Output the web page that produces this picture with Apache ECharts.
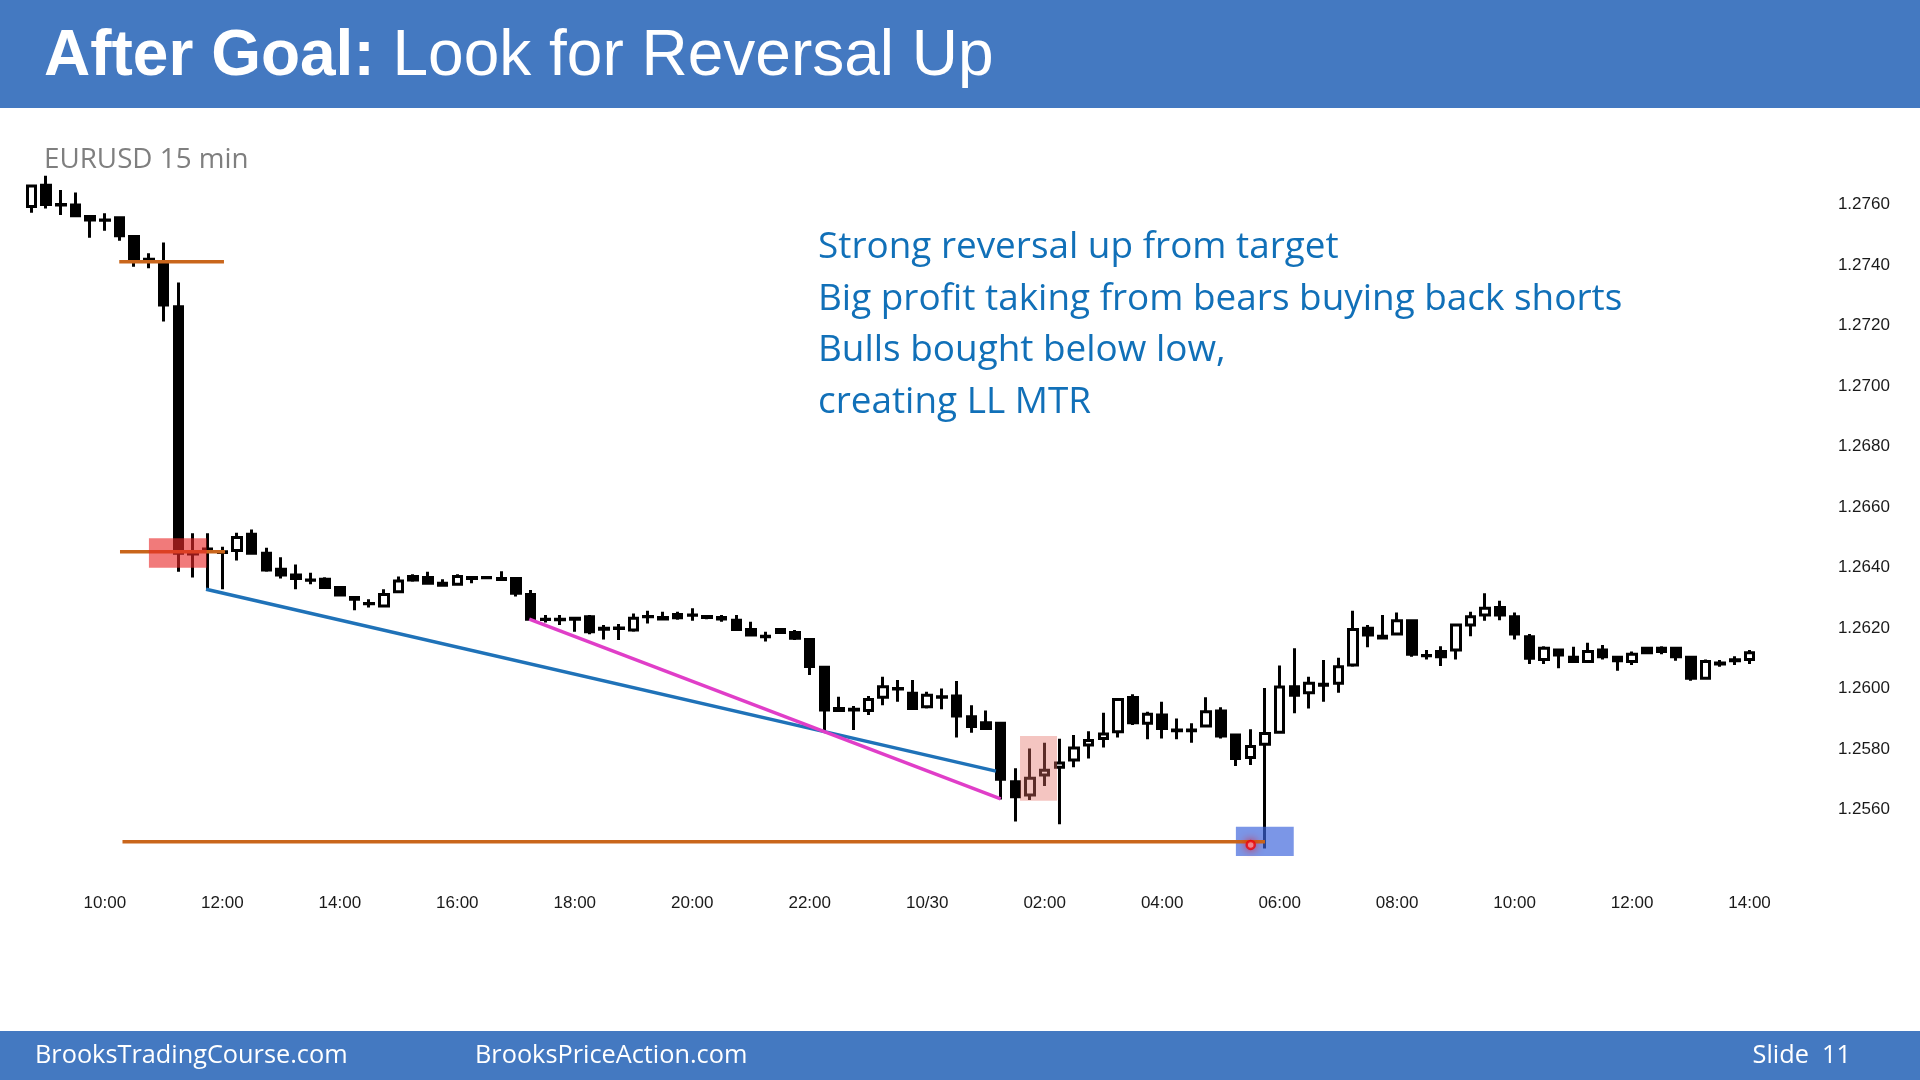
<!DOCTYPE html>
<html>
<head>
<meta charset="utf-8">
<title>After Goal: Look for Reversal Up</title>
<script src="https://cdn.jsdelivr.net/npm/echarts/dist/echarts.min.js"></script>
<style>
  html, body { margin: 0; padding: 0; background: #fff; }
  #main { width: 1920px; height: 1080px; }
</style>
</head>
<body>
<div id="main"></div>
<script>
// EURUSD 15 min bars, [open, close, low, high], first bar 08:45
const bars = [
  [1.27593, 1.27661, 1.27573, 1.27665],
  [1.27664, 1.27600, 1.27587, 1.27695],
  [1.27600, 1.27598, 1.27565, 1.27648],
  [1.27598, 1.27563, 1.27558, 1.27640],
  [1.27560, 1.27549, 1.27490, 1.27561],
  [1.27549, 1.27548, 1.27513, 1.27571],
  [1.27556, 1.27497, 1.27480, 1.27560],
  [1.27494, 1.27417, 1.27394, 1.27497],
  [1.27419, 1.27415, 1.27389, 1.27439],
  [1.27405, 1.27268, 1.27213, 1.27474],
  [1.27262, 1.26447, 1.26386, 1.27342],
  [1.26447, 1.26445, 1.26367, 1.26513],
  [1.26461, 1.26460, 1.26328, 1.26513],
  [1.26450, 1.26452, 1.26328, 1.26469],
  [1.26456, 1.26499, 1.26423, 1.26515],
  [1.26510, 1.26447, 1.26447, 1.26526],
  [1.26447, 1.26392, 1.26386, 1.26465],
  [1.26394, 1.26375, 1.26364, 1.26434],
  [1.26375, 1.26364, 1.26328, 1.26410],
  [1.26359, 1.26358, 1.26345, 1.26383],
  [1.26361, 1.26334, 1.26331, 1.26368],
  [1.26334, 1.26309, 1.26304, 1.26339],
  [1.26301, 1.26295, 1.26259, 1.26301],
  [1.26281, 1.26280, 1.26268, 1.26295],
  [1.26273, 1.26311, 1.26273, 1.26328],
  [1.26320, 1.26355, 1.26320, 1.26370],
  [1.26370, 1.26359, 1.26353, 1.26378],
  [1.26367, 1.26348, 1.26348, 1.26386],
  [1.26348, 1.26341, 1.26341, 1.26361],
  [1.26345, 1.26370, 1.26341, 1.26378],
  [1.26367, 1.26364, 1.26348, 1.26367],
  [1.26367, 1.26366, 1.26362, 1.26372],
  [1.26364, 1.26360, 1.26360, 1.26388],
  [1.26364, 1.26315, 1.26304, 1.26368],
  [1.26311, 1.26229, 1.26225, 1.26326],
  [1.26229, 1.26228, 1.26218, 1.26243],
  [1.26229, 1.26227, 1.26210, 1.26243],
  [1.26232, 1.26229, 1.26188, 1.26232],
  [1.26237, 1.26188, 1.26179, 1.26243],
  [1.26199, 1.26196, 1.26162, 1.26210],
  [1.26198, 1.26200, 1.26160, 1.26213],
  [1.26193, 1.26232, 1.26188, 1.26248],
  [1.26237, 1.26238, 1.26215, 1.26257],
  [1.26235, 1.26230, 1.26229, 1.26254],
  [1.26245, 1.26234, 1.26227, 1.26254],
  [1.26243, 1.26242, 1.26224, 1.26265],
  [1.26238, 1.26235, 1.26229, 1.26243],
  [1.26235, 1.26230, 1.26221, 1.26243],
  [1.26226, 1.26195, 1.26193, 1.26243],
  [1.26195, 1.26177, 1.26174, 1.26221],
  [1.26173, 1.26171, 1.26155, 1.26188],
  [1.26195, 1.26185, 1.26182, 1.26198],
  [1.26185, 1.26166, 1.26160, 1.26193],
  [1.26162, 1.26073, 1.26045, 1.26166],
  [1.26070, 1.25929, 1.25857, 1.26072],
  [1.25934, 1.25927, 1.25925, 1.25973],
  [1.25929, 1.25931, 1.25863, 1.25942],
  [1.25927, 1.25964, 1.25912, 1.25975],
  [1.25971, 1.26006, 1.25945, 1.26039],
  [1.26000, 1.25998, 1.25956, 1.26028],
  [1.25984, 1.25934, 1.25934, 1.26028],
  [1.25940, 1.25978, 1.25934, 1.25989],
  [1.25973, 1.25971, 1.25931, 1.26000],
  [1.25975, 1.25909, 1.25838, 1.26025],
  [1.25907, 1.25874, 1.25854, 1.25945],
  [1.25887, 1.25868, 1.25865, 1.25927],
  [1.25885, 1.25700, 1.25633, 1.25887],
  [1.25692, 1.25642, 1.25560, 1.25736],
  [1.25648, 1.25703, 1.25631, 1.25802],
  [1.25714, 1.25730, 1.25678, 1.25821],
  [1.25740, 1.25754, 1.25551, 1.25834],
  [1.25764, 1.25803, 1.25740, 1.25846],
  [1.25813, 1.25828, 1.25769, 1.25859],
  [1.25835, 1.25850, 1.25805, 1.25920],
  [1.25857, 1.25964, 1.25838, 1.25968],
  [1.25970, 1.25887, 1.25879, 1.25981],
  [1.25885, 1.25915, 1.25832, 1.25923],
  [1.25912, 1.25868, 1.25835, 1.25956],
  [1.25863, 1.25860, 1.25832, 1.25901],
  [1.25860, 1.25863, 1.25821, 1.25885],
  [1.25876, 1.25923, 1.25871, 1.25971],
  [1.25926, 1.25843, 1.25835, 1.25938],
  [1.25846, 1.25769, 1.25744, 1.25851],
  [1.25772, 1.25808, 1.25747, 1.25865],
  [1.25816, 1.25851, 1.25471, 1.26002],
  [1.25855, 1.26005, 1.25852, 1.26076],
  [1.26006, 1.25978, 1.25918, 1.26133],
  [1.25986, 1.26017, 1.25934, 1.26039],
  [1.26011, 1.26014, 1.25956, 1.26094],
  [1.26017, 1.26072, 1.25986, 1.26102],
  [1.26078, 1.26195, 1.26072, 1.26257],
  [1.26199, 1.26177, 1.26136, 1.26210],
  [1.26173, 1.26167, 1.26165, 1.26243],
  [1.26180, 1.26224, 1.26177, 1.26251],
  [1.26224, 1.26113, 1.26105, 1.26229],
  [1.26108, 1.26109, 1.26096, 1.26127],
  [1.26122, 1.26105, 1.26074, 1.26140],
  [1.26127, 1.26210, 1.26096, 1.26215],
  [1.26210, 1.26237, 1.26173, 1.26254],
  [1.26243, 1.26265, 1.26224, 1.26315],
  [1.26268, 1.26243, 1.26226, 1.26290],
  [1.26237, 1.26180, 1.26162, 1.26251],
  [1.26171, 1.26100, 1.26081, 1.26180],
  [1.26096, 1.26133, 1.26081, 1.26140],
  [1.26127, 1.26111, 1.26067, 1.26127],
  [1.26103, 1.26089, 1.26089, 1.26138],
  [1.26089, 1.26122, 1.26089, 1.26151],
  [1.26127, 1.26105, 1.26096, 1.26144],
  [1.26103, 1.26092, 1.26059, 1.26103],
  [1.26089, 1.26113, 1.26078, 1.26122],
  [1.26133, 1.26118, 1.26116, 1.26138],
  [1.26133, 1.26122, 1.26113, 1.26140],
  [1.26133, 1.26105, 1.26092, 1.26138],
  [1.26103, 1.26034, 1.26026, 1.26105],
  [1.26034, 1.26089, 1.26031, 1.26096],
  [1.26081, 1.26084, 1.26072, 1.26094],
  [1.26092, 1.26095, 1.26078, 1.26107],
  [1.26096, 1.26118, 1.26081, 1.26127]
]

// time axis
const firstBarMinutes = 8 * 60 + 45
const tickLabels = ['10:00', '12:00', '14:00', '16:00', '18:00', '20:00', '22:00', '10/30',
  '02:00', '04:00', '06:00', '08:00', '10:00', '12:00', '14:00']
const firstTickBar = 5
const barsPerTick = 8

// y ticks
const priceMin = 1.2540
const priceMax = 1.2780
const priceStep = 0.0020

// drawn annotations, in bar index / price
const levelLines = [ // [fromBar, toBar, price]
  [5.98, 13.11, 1.27411],
  [6.03, 13.18, 1.26452],
  [6.20, 84.00, 1.25493]
]
const trendLines = [ // [fromBar, fromPrice, toBar, toPrice]
  [11.89, 1.26328, 65.68, 1.25727],
  [33.90, 1.26229, 66.00, 1.25635]
]
const zones = [ // [fromBar, toBar, lowPrice, highPrice]
  [8.00, 11.93, 1.26399, 1.26497],
  [67.32, 69.84, 1.25629, 1.25843],
  [82.02, 85.96, 1.25446, 1.25543]
]
const targetPoint = [83.03, 1.25483]

const notes = [
  'Strong reversal up from target',
  'Big profit taking from bears buying back shorts',
  'Bulls bought below low,',
  'creating LL MTR'
]

const trendColors = ['#1f72b8', '#e03ec8']
const zoneStyles = [
  { fill: 'rgba(232,40,40,0.62)', z: 6 },
  { fill: 'rgba(228,110,100,0.4)', z: 6 },
  { fill: 'rgba(60,100,220,0.68)', z: 3 }
]

const categories = bars.map((b, i) => {
  const m = (firstBarMinutes + i * 15) % (24 * 60)
  const hh = String(Math.floor(m / 60)).padStart(2, '0')
  const mm = String(m % 60).padStart(2, '0')
  return hh + ':' + mm
})

const isTick = (i) => i >= firstTickBar && (i - firstTickBar) % barsPerTick === 0

const chart = echarts.init(document.getElementById('main'))

const series = [
  {
    type: 'candlestick',
    xAxisIndex: 0,
    yAxisIndex: 0,
    data: bars,
    barWidth: 9,
    z: 2,
    itemStyle: {
      color: '#ffffff',
      color0: '#000000',
      borderColor: '#000000',
      borderColor0: '#000000',
      borderColorDoji: '#000000',
      borderWidth: 3
    }
  }
]

levelLines.forEach((l) => {
  series.push({
    type: 'line',
    xAxisIndex: 1,
    yAxisIndex: 0,
    data: [[l[0], l[2]], [l[1], l[2]]],
    symbol: 'none',
    z: 4,
    lineStyle: { color: '#c9661c', width: 3.5 }
  })
})

trendLines.forEach((l, k) => {
  series.push({
    type: 'line',
    xAxisIndex: 1,
    yAxisIndex: 0,
    data: [[l[0], l[1]], [l[2], l[3]]],
    symbol: 'none',
    z: 5,
    lineStyle: { color: trendColors[k], width: 3.5 }
  })
})

zones.forEach((zn, k) => {
  series.push({
    type: 'custom',
    xAxisIndex: 1,
    yAxisIndex: 0,
    z: zoneStyles[k].z,
    data: [zn],
    renderItem: (params, api) => {
      const p0 = api.coord([api.value(0), api.value(3)])
      const p1 = api.coord([api.value(1), api.value(2)])
      return {
        type: 'rect',
        shape: { x: p0[0], y: p0[1], width: p1[0] - p0[0], height: p1[1] - p0[1] },
        style: { fill: zoneStyles[k].fill }
      }
    }
  })
})

series.push({
  type: 'scatter',
  xAxisIndex: 1,
  yAxisIndex: 0,
  z: 8,
  data: [targetPoint],
  symbol: 'circle',
  symbolSize: 8,
  itemStyle: {
    color: '#ffb0b0',
    borderColor: '#e8000a',
    borderWidth: 2.5,
    shadowBlur: 8,
    shadowColor: 'rgba(255,0,0,0.8)'
  }
})

const graphics = [
  { type: 'rect', left: 0, top: 0, shape: { width: 1920, height: 108 }, style: { fill: '#4479c1' }, z: 0 },
  {
    type: 'text', x: 44, y: 57,
    style: {
      text: '{b|After Goal:} Look for Reversal Up',
      fill: '#ffffff',
      font: '64px "Liberation Sans", Arial, sans-serif',
      verticalAlign: 'middle',
      rich: { b: { fontWeight: 'bold', fontSize: 64, fontFamily: '"Liberation Sans", Arial, sans-serif', fill: '#ffffff' } }
    }
  },
  {
    type: 'text', x: 44, y: 160.5,
    style: { text: 'EURUSD 15 min', fill: '#7f7f7f', font: '27.8px "Open Sans", sans-serif', verticalAlign: 'middle' }
  },
  { type: 'rect', left: 0, top: 1031, shape: { width: 1920, height: 49 }, style: { fill: '#4479c1' }, z: 0 },
  {
    type: 'text', x: 35, y: 1056,
    style: { text: 'BrooksTradingCourse.com', fill: '#ffffff', font: '25.3px "Open Sans", sans-serif', verticalAlign: 'middle' }
  },
  {
    type: 'text', x: 475, y: 1056,
    style: { text: 'BrooksPriceAction.com', fill: '#ffffff', font: '25.3px "Open Sans", sans-serif', verticalAlign: 'middle' }
  },
  {
    type: 'text', x: 1851, y: 1056,
    style: { text: 'Slide  11', fill: '#ffffff', font: '25.3px "Open Sans", sans-serif', align: 'right', verticalAlign: 'middle' }
  }
]

notes.forEach((t, k) => {
  graphics.push({
    type: 'text', x: 818, y: 247.5 + k * 51.5,
    style: { text: t, fill: '#1170b8', font: '36.9px "Open Sans", sans-serif', verticalAlign: 'middle' }
  })
})

chart.setOption({
  animation: false,
  backgroundColor: '#ffffff',
  grid: { left: 24.1, top: 144, width: 1732.8, height: 726 },
  xAxis: [
    {
      type: 'category',
      data: categories,
      boundaryGap: true,
      axisLine: { show: false },
      axisTick: { show: false },
      splitLine: { show: false },
      axisLabel: {
        interval: (i) => isTick(i),
        formatter: (v, i) => tickLabels[(i - firstTickBar) / barsPerTick],
        margin: 25,
        fontSize: 17,
        fontFamily: '"Liberation Sans", Arial, sans-serif',
        color: '#1a1a1a'
      }
    },
    {
      type: 'value',
      min: -0.5,
      max: bars.length - 0.5,
      show: false,
      splitLine: { show: false }
    }
  ],
  yAxis: {
    type: 'value',
    position: 'right',
    min: priceMin,
    max: priceMax,
    interval: priceStep,
    splitLine: { show: false },
    axisLine: { show: false },
    axisTick: { show: false },
    axisLabel: {
      showMinLabel: false,
      showMaxLabel: false,
      margin: 81,
      fontSize: 17,
      fontFamily: '"Liberation Sans", Arial, sans-serif',
      color: '#1a1a1a',
      formatter: (v) => v.toFixed(4)
    }
  },
  graphic: graphics,
  series: series
})
</script>
</body>
</html>
